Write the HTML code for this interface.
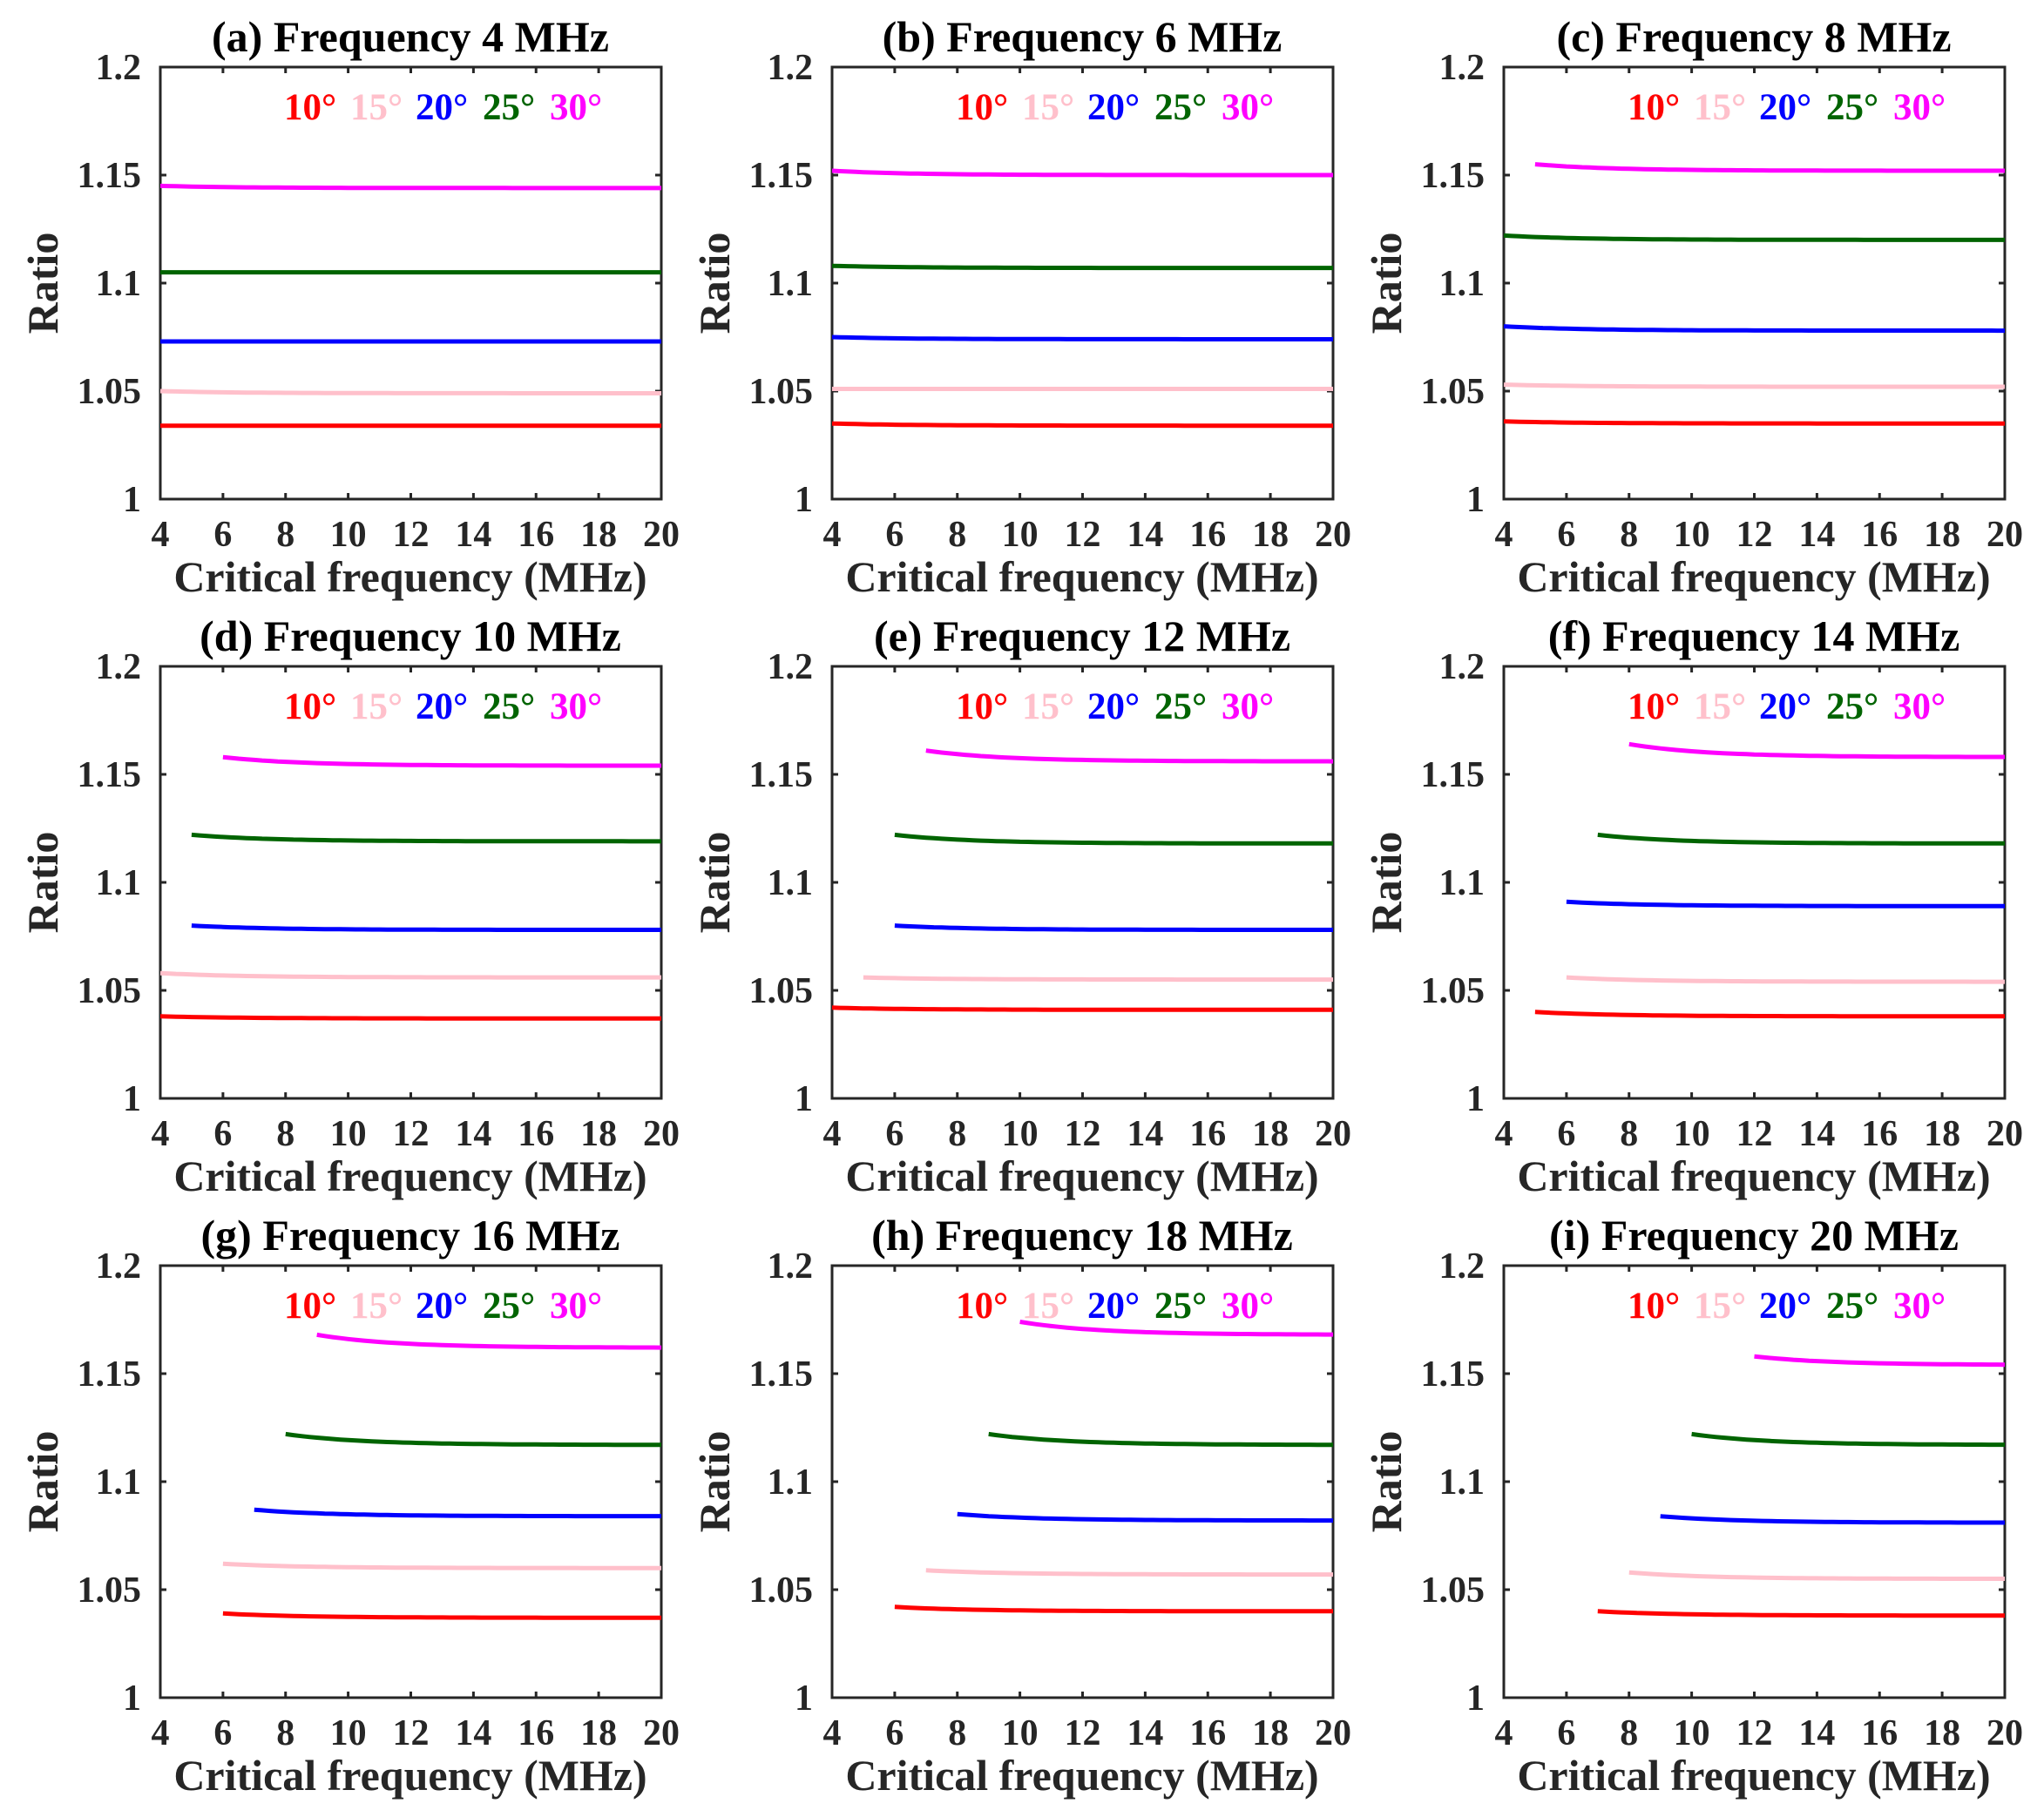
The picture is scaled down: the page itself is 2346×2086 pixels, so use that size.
<!DOCTYPE html>
<html><head><meta charset="utf-8"><style>
html,body{margin:0;padding:0;background:#fff;}
svg{display:block;}
text{font-family:"Liberation Serif","Times New Roman",serif;font-weight:bold;fill:#262626;}
.t{font-size:50px;fill:#000;}
.tk{font-size:42px;}
.lb{font-size:50px;}
.lg{font-size:43px;}
.ov{position:absolute;left:0;top:0;}
</style></head><body>
<svg id="s" width="2346" height="2086" viewBox="0 0 2346 2086" xmlns="http://www.w3.org/2000/svg">
<defs>
<g id="frame">
<rect x="0" y="0" width="575" height="496" fill="none" stroke="#262626" stroke-width="3"/>
<path d="M71.9,0v7M143.75,0v7M215.6,0v7M287.5,0v7M359.4,0v7M431.25,0v7M503.1,0v7M71.9,496v-7M143.75,496v-7M215.6,496v-7M287.5,496v-7M359.4,496v-7M431.25,496v-7M503.1,496v-7M0,124h7M0,248h7M0,372h7M575,124h-7M575,248h-7M575,372h-7" stroke="#262626" stroke-width="3"/>
</g>
</defs>
<g id="p0" transform="translate(184,77)"><use href="#frame"/>
<text class="t" font-family="Liberation Serif, serif" x="287" y="-18" text-anchor="middle">(a) Frequency 4 MHz</text></g>
<g id="p1" transform="translate(955,77)"><use href="#frame"/>
<text class="t" font-family="Liberation Serif, serif" x="287" y="-18" text-anchor="middle">(b) Frequency 6 MHz</text></g>
<g id="p2" transform="translate(1726,77)"><use href="#frame"/>
<text class="t" font-family="Liberation Serif, serif" x="287" y="-18" text-anchor="middle">(c) Frequency 8 MHz</text></g>
<g id="p3" transform="translate(184,765)"><use href="#frame"/>
<text class="t" font-family="Liberation Serif, serif" x="287" y="-18" text-anchor="middle">(d) Frequency 10 MHz</text></g>
<g id="p4" transform="translate(955,765)"><use href="#frame"/>
<text class="t" font-family="Liberation Serif, serif" x="287" y="-18" text-anchor="middle">(e) Frequency 12 MHz</text></g>
<g id="p5" transform="translate(1726,765)"><use href="#frame"/>
<text class="t" font-family="Liberation Serif, serif" x="287" y="-18" text-anchor="middle">(f) Frequency 14 MHz</text></g>
<g id="p6" transform="translate(184,1453)"><use href="#frame"/>
<text class="t" font-family="Liberation Serif, serif" x="287" y="-18" text-anchor="middle">(g) Frequency 16 MHz</text></g>
<g id="p7" transform="translate(955,1453)"><use href="#frame"/>
<text class="t" font-family="Liberation Serif, serif" x="287" y="-18" text-anchor="middle">(h) Frequency 18 MHz</text></g>
<g id="p8" transform="translate(1726,1453)"><use href="#frame"/>
<text class="t" font-family="Liberation Serif, serif" x="287" y="-18" text-anchor="middle">(i) Frequency 20 MHz</text></g>
</svg>
<script>
var NS='http://www.w3.org/2000/svg';
var cols=['#ff0000','#ffc0cb','#0000ff','#006400','#ff00ff'];
var data=[
[[4,1.034,1.034],[4,1.050,1.049],[4,1.073,1.073],[4,1.105,1.105],[4,1.145,1.144]],
[[4,1.035,1.034],[4,1.051,1.051],[4,1.075,1.074],[4,1.108,1.107],[4,1.152,1.150]],
[[4,1.036,1.035],[4,1.053,1.052],[4,1.080,1.078],[4,1.122,1.120],[5,1.155,1.152]],
[[4,1.038,1.037],[4,1.058,1.056],[5,1.080,1.078],[5,1.122,1.119],[6,1.158,1.154]],
[[4,1.042,1.041],[5,1.056,1.055],[6,1.080,1.078],[6,1.122,1.118],[7,1.161,1.156]],
[[5,1.040,1.038],[6,1.056,1.054],[6,1.091,1.089],[7,1.122,1.118],[8,1.164,1.158]],
[[6,1.039,1.037],[6,1.062,1.060],[7,1.087,1.084],[8,1.122,1.117],[9,1.168,1.162]],
[[6,1.042,1.040],[7,1.059,1.057],[8,1.085,1.082],[9,1.122,1.117],[10,1.174,1.168]],
[[7,1.040,1.038],[8,1.058,1.055],[9,1.084,1.081],[10,1.122,1.117],[12,1.158,1.154]]];
function X(f){return (f-4)/16*575;}function Y(r){return 2480*(1.2-r);}
for(var p=0;p<9;p++){var g=document.getElementById('p'+p);
 for(var k=0;k<5;k++){var d=data[p][k],s='';
  for(var x=d[0];x<=20.001;x+=0.25){var v=d[2]+(d[1]-d[2])*Math.exp(-(x-d[0])/2.5);
   s+=(s?'L':'M')+X(x).toFixed(1)+','+Y(v).toFixed(1);}
  var e=document.createElementNS(NS,'path');e.setAttribute('d',s);e.setAttribute('fill','none');
  e.setAttribute('stroke',cols[k]);e.setAttribute('stroke-width','5');g.appendChild(e);}
}
</script>
<svg class="ov" width="2346" height="2086" viewBox="0 0 2346 2086" xmlns="http://www.w3.org/2000/svg">
<defs>
<g id="lab" font-family="Liberation Serif, serif" font-weight="bold">
<text class="tk" x="-22" y="14" text-anchor="end">1.2</text>
<text class="tk" x="-22" y="138" text-anchor="end">1.15</text>
<text class="tk" x="-22" y="262" text-anchor="end">1.1</text>
<text class="tk" x="-22" y="386" text-anchor="end">1.05</text>
<text class="tk" x="-22" y="510" text-anchor="end">1</text>
<text class="tk" x="0" y="550" text-anchor="middle">4</text>
<text class="tk" x="71.9" y="550" text-anchor="middle">6</text>
<text class="tk" x="143.75" y="550" text-anchor="middle">8</text>
<text class="tk" x="215.6" y="550" text-anchor="middle">10</text>
<text class="tk" x="287.5" y="550" text-anchor="middle">12</text>
<text class="tk" x="359.4" y="550" text-anchor="middle">14</text>
<text class="tk" x="431.25" y="550" text-anchor="middle">16</text>
<text class="tk" x="503.1" y="550" text-anchor="middle">18</text>
<text class="tk" x="575" y="550" text-anchor="middle">20</text>
<text class="lb" x="287" y="602" text-anchor="middle">Critical frequency (MHz)</text>
<text class="lb" transform="translate(-118,248) rotate(-90)" text-anchor="middle">Ratio</text>
<text class="lg" x="142" y="60" style="fill:#ff0000">10°</text>
<text class="lg" x="218" y="60" style="fill:#ffc0cb">15°</text>
<text class="lg" x="293" y="60" style="fill:#0000ff">20°</text>
<text class="lg" x="370" y="60" style="fill:#006400">25°</text>
<text class="lg" x="447" y="60" style="fill:#ff00ff">30°</text>
</g>
</defs>
<use href="#lab" x="184" y="77"/><use href="#lab" x="955" y="77"/><use href="#lab" x="1726" y="77"/>
<use href="#lab" x="184" y="765"/><use href="#lab" x="955" y="765"/><use href="#lab" x="1726" y="765"/>
<use href="#lab" x="184" y="1453"/><use href="#lab" x="955" y="1453"/><use href="#lab" x="1726" y="1453"/>
</svg>
</body></html>
